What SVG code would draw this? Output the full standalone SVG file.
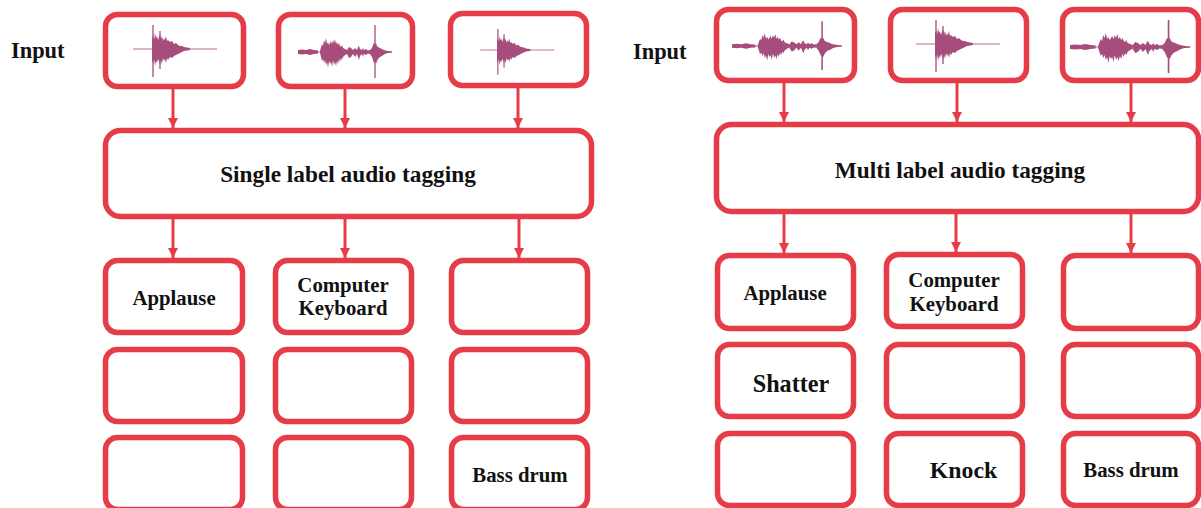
<svg xmlns="http://www.w3.org/2000/svg" xmlns:xlink="http://www.w3.org/1999/xlink" width="1201" height="508" viewBox="0 0 1201 508">
  <style>
    .box { fill: #ffffff; stroke: #e63c47; stroke-width: 5.5; }
    .conn { stroke: #e63c47; stroke-width: 3; fill: none; }
    .lbl { font-family: "Liberation Serif", "Times New Roman", serif; font-weight: bold; fill: #111111; text-anchor: middle; }
    .label { font-size: 20.8px; }
    .title { font-size: 23.3px; }
    .input { font-family: "Liberation Serif", "Times New Roman", serif; font-weight: bold; fill: #111111; font-size: 22.4px; }
    .wave { fill: #a64d7e; }
    .wline { stroke: #b8668f; stroke-width: 1; fill: none; }
    .wspike { stroke: #a64d7e; stroke-width: 1.3; fill: none; }
  </style>
  <defs>
    <marker id="ah" viewBox="0 0 10 10" refX="10" refY="5" markerWidth="10" markerHeight="10" orient="auto" markerUnits="userSpaceOnUse">
      <path d="M0,0 L10,5 L0,10 Z" fill="#e63c47"/>
    </marker>
    <!-- single decaying burst, origin at burst onset on the centre line -->
    <g id="waveBurst">
      <line class="wline" x1="-19" y1="0" x2="65" y2="0"/>
      <path class="wave" d="M0,-10 L1,-14 L2,-9 L3,-16 L4,-11 L5,-13 L6,-9 L7,-12 L8,-15 L9,-10 L10,-13 L11,-8 L12,-11 L13,-9 L14,-13 L15,-8 L16,-9 L18,-7 L20,-8 L22,-5 L24,-6 L26,-4 L28,-3 L30,-3 L32,-2 L35,-1.5 L38,-1 L38,1 L35,1.5 L32,2 L30,3 L28,4 L26,5 L24,6 L22,7 L20,9 L18,8 L16,11 L15,9 L14,14 L13,10 L12,12 L11,9 L10,15 L9,11 L8,16 L7,12 L6,10 L5,14 L4,12 L3,17 L2,10 L1,15 L0,11 Z"/>
      <line class="wspike" x1="1" y1="-24" x2="1" y2="28"/>
      <line class="wspike" x1="8" y1="-18" x2="8" y2="20" stroke-width="0.8"/>
    </g>
    <!-- several events with a sharp transient, origin at left end of centre line -->
    <g id="waveMulti">
      <line class="wline" x1="0" y1="0" x2="94" y2="0"/>
      <path class="wave" d="M0,-2 L4,-2.5 L8,-2 L12,-3 L16,-2 L20,-1.5 L20,1.5 L16,2 L12,3 L8,2 L4,2.5 L0,2 Z"/>
      <path class="wave" d="M22,-1 L24,-8 L25,-6 L26,-12 L27,-9 L28,-14 L29,-8 L30,-10 L31,-7 L32,-9 L33,-11 L34,-8 L35,-12 L36,-9 L37,-13 L38,-8 L39,-10 L40,-7 L41,-9 L42,-6 L43,-5 L44,-7 L45,-4 L47,-3 L49,-2 L49,2 L47,3 L45,5 L44,8 L43,6 L42,10 L41,7 L40,12 L39,9 L38,14 L37,10 L36,13 L35,8 L34,15 L33,10 L32,12 L31,9 L30,16 L29,10 L28,13 L27,8 L26,11 L25,7 L24,9 L22,1 Z"/>
      <path class="wave" d="M49,-2 L51,-5 L53,-4 L55,-2 L57,-4 L59,-2 L60,-5 L61,-6 L62,-3 L64,-2 L65,-4 L66,-2 L68,-3 L70,-1.5 L72,-2 L72,2 L70,1.5 L68,3 L66,2 L65,5 L64,2 L62,4 L61,8 L60,5 L59,2 L57,5 L55,2 L53,5 L51,6 L49,2 Z"/>
      <path class="wave" d="M72,-2 L74,-4 L75,-7 L76,-9 L77,-8 L78,-9 L79,-6 L80,-5 L82,-4 L84,-3 L86,-2 L88,-1.5 L90,-1 L94,-0.5 L94,0.5 L90,1 L88,1.5 L86,2.5 L84,4 L82,5 L80,7 L79,9 L78,12 L77,10 L76,11 L75,8 L74,5 L72,2 Z"/>
      <line class="wspike" x1="77" y1="-27" x2="77" y2="26"/>
    </g>
  </defs>

  <!-- ===== single label panel ===== -->
  <text class="input" x="11" y="58">Input</text>

  <g id="s-in1">
    <rect class="box" x="105.5" y="14.5" width="138" height="72" rx="12"/>
    <use xlink:href="#waveBurst" transform="translate(152,49)"/>
  </g>
  <g id="s-in2">
    <rect class="box" x="278.5" y="14.5" width="134" height="72" rx="12"/>
    <use xlink:href="#waveMulti" transform="translate(298,52)"/>
  </g>
  <g id="s-in3">
    <rect class="box" x="450.5" y="13.5" width="136" height="72" rx="12"/>
    <use xlink:href="#waveBurst" transform="translate(497,50) scale(0.88)"/>
  </g>

  <g id="s-tagger">
    <rect class="box" x="105.5" y="130.5" width="486" height="86" rx="15"/>
    <text class="lbl title" x="348" y="181.5">Single label audio tagging</text>
  </g>

  <g id="s-out-r1c1">
    <rect class="box" x="105.5" y="260.5" width="137" height="72" rx="12"/>
    <text class="lbl label" x="174" y="305">Applause</text>
  </g>
  <g id="s-out-r1c2">
    <rect class="box" x="275.5" y="260.5" width="136" height="72" rx="12"/>
    <text class="lbl label" x="343" y="292">Computer</text>
    <text class="lbl label" x="343" y="315">Keyboard</text>
  </g>
  <g id="s-out-r1c3">
    <rect class="box" x="451.5" y="260.5" width="136" height="72" rx="12"/>
  </g>
  <g id="s-out-r2c1">
    <rect class="box" x="105.5" y="349.5" width="137" height="72" rx="12"/>
  </g>
  <g id="s-out-r2c2">
    <rect class="box" x="275.5" y="349.5" width="136" height="72" rx="12"/>
  </g>
  <g id="s-out-r2c3">
    <rect class="box" x="451.5" y="349.5" width="136" height="72" rx="12"/>
  </g>
  <g id="s-out-r3c1">
    <rect class="box" x="105.5" y="437.5" width="137" height="72" rx="12"/>
  </g>
  <g id="s-out-r3c2">
    <rect class="box" x="275.5" y="437.5" width="136" height="72" rx="12"/>
  </g>
  <g id="s-out-r3c3">
    <rect class="box" x="451.5" y="437.5" width="136" height="72" rx="12"/>
    <text class="lbl label" x="520" y="482">Bass drum</text>
  </g>

  <!-- ===== multi label panel ===== -->
  <text class="input" x="633" y="59">Input</text>

  <g id="m-in1">
    <rect class="box" x="716.5" y="9.5" width="138" height="71" rx="12"/>
    <use xlink:href="#waveMulti" transform="translate(732,46) scale(1.17,0.92)"/>
  </g>
  <g id="m-in2">
    <rect class="box" x="890.5" y="9.5" width="136" height="71" rx="12"/>
    <use xlink:href="#waveBurst" transform="translate(935,44)"/>
  </g>
  <g id="m-in3">
    <rect class="box" x="1062.5" y="9.5" width="136" height="71" rx="12"/>
    <use xlink:href="#waveMulti" transform="translate(1070,47) scale(1.28,1)"/>
  </g>

  <g id="m-tagger">
    <rect class="box" x="716.5" y="124.5" width="482" height="87" rx="15"/>
    <text class="lbl title" x="960" y="177.5">Multi label audio tagging</text>
  </g>

  <g id="m-out-r1c1">
    <rect class="box" x="717.5" y="255.5" width="136" height="73" rx="12"/>
    <text class="lbl label" x="785" y="300">Applause</text>
  </g>
  <g id="m-out-r1c2">
    <rect class="box" x="886.5" y="254.5" width="136" height="72" rx="12"/>
    <text class="lbl label" x="954" y="287">Computer</text>
    <text class="lbl label" x="954" y="311">Keyboard</text>
  </g>
  <g id="m-out-r1c3">
    <rect class="box" x="1063.5" y="255.5" width="135" height="73" rx="12"/>
  </g>
  <g id="m-out-r2c1">
    <rect class="box" x="717.5" y="344.5" width="136" height="72" rx="12"/>
    <text class="lbl" x="791" y="391.5" font-size="24.2px">Shatter</text>
  </g>
  <g id="m-out-r2c2">
    <rect class="box" x="886.5" y="344.5" width="136" height="72" rx="12"/>
  </g>
  <g id="m-out-r2c3">
    <rect class="box" x="1063.5" y="344.5" width="135" height="72" rx="12"/>
  </g>
  <g id="m-out-r3c1">
    <rect class="box" x="717.5" y="433.5" width="136" height="72" rx="12"/>
  </g>
  <g id="m-out-r3c2">
    <rect class="box" x="886.5" y="433.5" width="136" height="72" rx="12"/>
    <text class="lbl" x="963.5" y="478" font-size="23.8px">Knock</text>
  </g>
  <g id="m-out-r3c3">
    <rect class="box" x="1063.5" y="433.5" width="135" height="72" rx="12"/>
    <text class="lbl label" x="1131" y="477">Bass drum</text>
  </g>

  <!-- connectors -->
  <g id="connectors">
    <line class="conn" x1="173" y1="88" x2="173" y2="128" marker-end="url(#ah)"/>
    <line class="conn" x1="345" y1="88" x2="345" y2="128" marker-end="url(#ah)"/>
    <line class="conn" x1="518" y1="87" x2="518" y2="128" marker-end="url(#ah)"/>
    <line class="conn" x1="173" y1="219" x2="173" y2="258" marker-end="url(#ah)"/>
    <line class="conn" x1="345" y1="219" x2="345" y2="258" marker-end="url(#ah)"/>
    <line class="conn" x1="519" y1="219" x2="519" y2="258" marker-end="url(#ah)"/>

    <line class="conn" x1="784" y1="82" x2="784" y2="122" marker-end="url(#ah)"/>
    <line class="conn" x1="957" y1="82" x2="957" y2="122" marker-end="url(#ah)"/>
    <line class="conn" x1="1131" y1="82" x2="1131" y2="122" marker-end="url(#ah)"/>
    <line class="conn" x1="784" y1="214" x2="784" y2="253" marker-end="url(#ah)"/>
    <line class="conn" x1="956" y1="214" x2="956" y2="252" marker-end="url(#ah)"/>
    <line class="conn" x1="1131" y1="214" x2="1131" y2="253" marker-end="url(#ah)"/>
  </g>
</svg>
